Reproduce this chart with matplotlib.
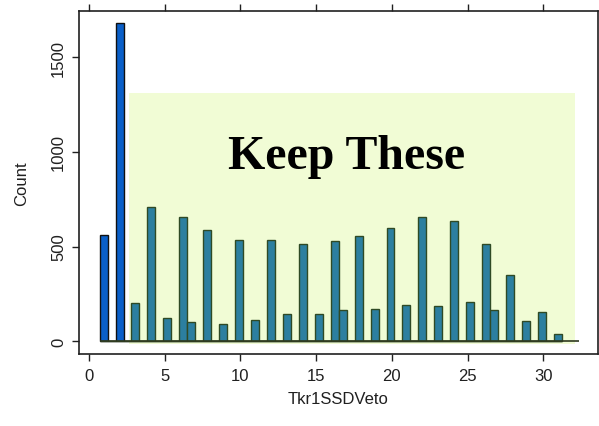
import numpy as np
import matplotlib
matplotlib.use("Agg")
import matplotlib.pyplot as plt
from matplotlib.patches import Rectangle

# ---- data ----
values = list(range(1, 32))
counts = [563, 1678, 200, 707, 121, 658, 100, 586, 93, 536, 114, 536, 142, 515,
          142, 528, 164, 556, 170, 598, 193, 656, 186, 636, 207, 513, 164, 350,
          107, 156, 37]
rejected_values = [1, 2]
x_ticks = [0, 5, 10, 15, 20, 25, 30]
y_ticks = [0, 500, 1000, 1500]
keep_label = "Keep These"
x_label = "Tkr1SSDVeto"
y_label = "Count"

# histogram binning (58 bins of width 10/19)
hist_lo = 0.70
bin_width = 10 / 19
n_bins = 58
edges = hist_lo + bin_width * np.arange(n_bins + 1)

# keep region
keep_x = (2.66, 32.1)
keep_y = (-15, 1310)

plt.rcParams['font.family'] = ['Liberation Sans', 'DejaVu Sans']

fig = plt.figure(figsize=(5.99, 4.27), dpi=100)
ax = fig.add_axes([0.1324, 0.168, 0.8656, 0.803])

ax.add_patch(Rectangle((keep_x[0], keep_y[0]), keep_x[1] - keep_x[0],
                       keep_y[1] - keep_y[0], facecolor='#F1FCD5',
                       edgecolor='none', zorder=0))

vals = np.array(values)
cnts = np.array(counts)
rej = np.isin(vals, rejected_values)

ax.hist(vals[rej], bins=edges, weights=cnts[rej], color='#0A5FC8',
        edgecolor='#101010', linewidth=1.0, zorder=2)
ax.hist(vals[~rej], bins=edges, weights=cnts[~rej], color='#2C7FA0',
        edgecolor='#2F4A25', linewidth=1.0, zorder=2)

ax.hlines(0, edges[0], 32.35, color='#2F3A20', linewidth=1.2, zorder=3)

ax.text(17.0, 978, keep_label, family='Liberation Serif', fontweight='bold',
        fontsize=34.5, ha='center', va='center', zorder=4)

ax.set_xlim(-0.64, 33.6)
ax.set_ylim(-68.6, 1741)
ax.set_xticks(x_ticks)
ax.set_yticks(y_ticks)
ax.tick_params(axis='both', direction='out', length=5, width=1.0,
               labelsize=12, colors='#202020')
ax.tick_params(axis='x', top=True, pad=5)
ax.tick_params(axis='y', pad=4.5)
for lab in ax.get_yticklabels():
    lab.set_rotation(90)
    lab.set_va('center')

for s in ax.spines.values():
    s.set_color('#202020')
    s.set_linewidth(1.2)

ax.set_xlabel(x_label, fontsize=12, labelpad=6, color='#202020')
ax.set_ylabel(y_label, fontsize=12, labelpad=16, color='#202020')

fig.savefig('out.png', dpi=100)
